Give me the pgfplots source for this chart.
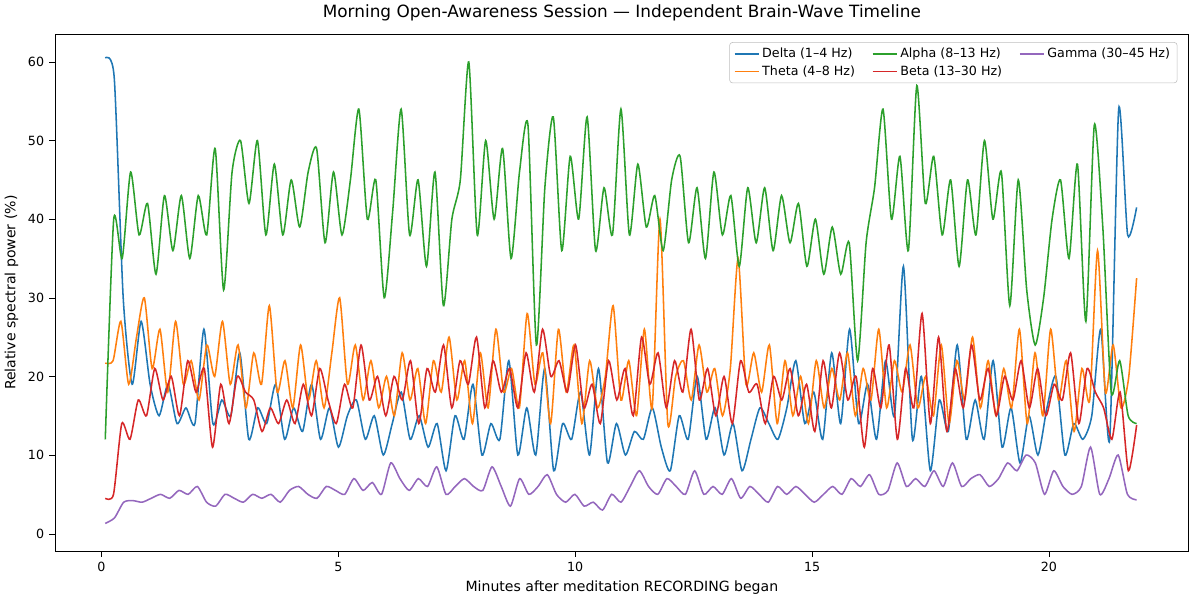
\documentclass[border=0pt]{standalone}
\usepackage{pgfplots}
\usepackage{pgfplotstable}
\pgfplotsset{compat=1.18}
\usepackage{fontspec}
\setmainfont{DejaVu Sans}
\definecolor{c0}{HTML}{1F77B4}\definecolor{c1}{HTML}{FF7F0E}\definecolor{c2}{HTML}{2CA02C}\definecolor{c3}{HTML}{D62728}\definecolor{c4}{HTML}{9467BD}
\pgfplotstableread[row sep=\\]{y\\60.5\\58\\30\\19\\27\\19\\15\\19\\14\\16\\14\\26\\14\\17\\15\\23\\12\\16\\14\\19\\12\\16\\13\\19\\12\\16\\11\\15\\17\\12\\15\\10\\14\\18\\12\\15\\11\\14\\8\\15\\12\\19\\10\\14\\12\\22\\10\\16\\10\\21\\8\\14\\12\\18\\10\\21\\9\\14\\10\\13\\12\\16\\11\\8\\15\\12\\20\\12\\16\\10\\14\\8\\12\\16\\14\\12\\16\\22\\14\\18\\12\\23\\14\\26\\14\\19\\12\\22\\15\\34\\12\\20\\8\\17\\13\\24\\12\\17\\12\\22\\11\\16\\9\\15\\10\\16\\20\\10\\14\\12\\15\\26\\12\\54\\38\\41.5\\}\tdelta
\pgfplotstableread[row sep=\\]{y\\21.7\\22\\27\\19\\25\\30\\21\\26\\18\\27\\19\\22\\17\\24\\20\\27\\19\\24\\16\\23\\19\\29\\18\\22\\16\\24\\17\\22\\16\\23\\30\\19\\24\\17\\22\\16\\20\\15\\23\\17\\21\\14\\22\\18\\25\\17\\22\\14\\23\\16\\26\\18\\21\\16\\28\\19\\23\\14\\26\\18\\24\\14\\22\\16\\20\\29\\17\\22\\15\\26\\16\\40\\14\\20\\22\\17\\24\\18\\21\\15\\21\\35\\19\\23\\18\\24\\14\\22\\15\\20\\14\\22\\16\\21\\17\\23\\15\\21\\17\\26\\16\\22\\18\\24\\16\\20\\15\\24\\14\\22\\17\\25\\16\\22\\15\\21\\16\\26\\14\\23\\15\\26\\17\\22\\13\\21\\17\\36\\18\\24\\16\\20\\32.5\\}\ttheta
\pgfplotstableread[row sep=\\]{y\\12\\40\\35\\46\\38\\42\\33\\43\\36\\43\\35\\43\\38\\49\\31\\46\\50\\42\\50\\38\\47\\38\\45\\39\\46\\49\\37\\46\\38\\45\\54\\40\\45\\30\\41\\54\\38\\45\\34\\46\\29\\40\\45\\60\\38\\50\\40\\49\\35\\46\\52\\24\\44\\53\\36\\48\\40\\53\\36\\44\\38\\54\\38\\47\\39\\43\\36\\45\\48\\37\\44\\35\\46\\38\\43\\34\\44\\37\\44\\36\\43\\37\\42\\34\\40\\33\\39\\33\\37\\22\\37\\44\\54\\40\\48\\36\\57\\42\\48\\38\\45\\34\\45\\38\\50\\40\\46\\29\\45\\31\\24\\30\\40\\45\\35\\47\\27\\52\\39\\18\\22\\15\\14\\}\talpha
\pgfplotstableread[row sep=\\]{y\\4.5\\5\\14\\12\\17\\15\\21\\17\\20\\15\\22\\18\\21\\11\\19\\14\\20\\18\\17\\13\\16\\14\\17\\14\\19\\15\\21\\17\\14\\19\\16\\24\\17\\20\\15\\20\\17\\22\\14\\21\\18\\24\\16\\22\\19\\25\\16\\22\\18\\21\\16\\23\\18\\26\\20\\22\\18\\24\\16\\19\\14\\22\\17\\21\\15\\25\\19\\23\\16\\22\\18\\26\\17\\21\\15\\20\\14\\22\\18\\19\\14\\20\\17\\21\\15\\19\\13\\22\\16\\23\\17\\20\\11\\21\\16\\24\\12\\21\\16\\28\\14\\25\\13\\21\\16\\24\\17\\21\\15\\20\\17\\22\\16\\21\\15\\19\\17\\23\\14\\21\\18\\16\\12\\18\\8\\13.8\\}\tbeta
\pgfplotstableread[row sep=\\]{y\\1.3\\2\\4\\4.2\\4\\4.5\\5\\4.5\\5.5\\5\\6\\4\\3.5\\5\\4.5\\4\\5\\4.5\\5\\4\\5.5\\6\\5\\4.5\\6\\5.5\\5\\7\\5.5\\6.5\\5\\9\\7\\5.5\\7\\6\\8.5\\5\\6\\7\\6\\5.5\\8.5\\6\\3.5\\7\\5\\6\\7.5\\5\\4\\5\\3.5\\4\\3\\5\\4\\6\\8\\6\\5\\7\\6\\5\\8\\5\\6\\5\\7\\4.5\\6\\5\\4\\6\\5\\6\\5\\4\\5\\6\\5\\7\\6\\7.5\\5\\5.5\\9\\6\\7\\6\\8\\6\\9\\6\\7\\7.5\\6\\7\\9\\8\\10\\9\\5\\8\\6\\5\\6\\11\\5\\7\\10\\5\\4.3\\}\tgamma
\newcommand\plotser[2]{%
  \pgfplotstablegetrowsof{#1}\pgfmathsetmacro\nn{\pgfplotsretval}%
  \addplot[#2, line width=1.1pt, no markers, smooth, tension=0.4] table[x expr={0.08+\coordindex*21.77/(\nn-1)}, y=y] {#1};}
\begin{document}
\begin{tikzpicture}
\begin{axis}[scale only axis, width=11.15in, height=5.08in,
  xmin=-0.98, xmax=22.95, ymin=-2.2, ymax=63.5,
  xtick={0,5,10,15,20}, ytick={0,10,20,30,40,50,60},
  xtick pos=lower, ytick pos=left,
  /pgf/number format/assume math mode=true,
  tick align=outside, tick style={black}, tick label style={font=\small},
  title style={font=\large},
  title={Morning Open-Awareness Session — Independent Brain-Wave Timeline},
  xlabel={Minutes after meditation RECORDING began},
  ylabel={Relative spectral power (\%)},
  transpose legend,
  legend style={at={(0.99,0.985)}, anchor=north east, font=\small, legend columns=2, draw=black!25, rounded corners=2pt, /tikz/every odd row/.append style={}, /tikz/column 2/.style={column sep=10pt}, /tikz/column 4/.style={column sep=10pt}},
  legend cell align=left]
\plotser{\tdelta}{c0}\addlegendentry{Delta (1–4 Hz)}
\plotser{\ttheta}{c1}\addlegendentry{Theta (4–8 Hz)}
\plotser{\talpha}{c2}\addlegendentry{Alpha (8–13 Hz)}
\plotser{\tbeta}{c3}\addlegendentry{Beta (13–30 Hz)}
\plotser{\tgamma}{c4}\addlegendentry{Gamma (30–45 Hz)}
\end{axis}
\end{tikzpicture}
\end{document}
